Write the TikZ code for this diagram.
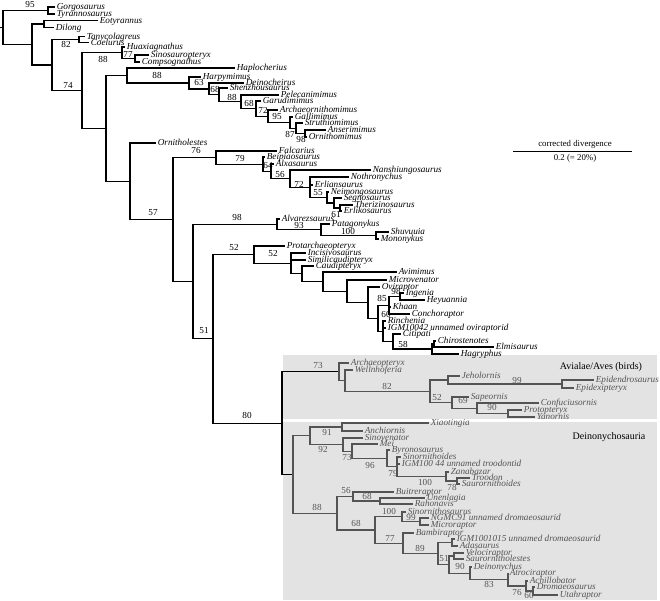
\documentclass[tikz,border=0pt]{standalone}
\usepackage{fontspec}
\setmainfont{Liberation Serif}
\usetikzlibrary{positioning}
\definecolor{panelgray}{gray}{0.89}
\definecolor{paleink}{gray}{0.33}
\tikzset{
  branch/.style={line width=1.15pt,line join=miter},
  palebranch/.style={branch,draw=paleink},
  taxon/.style={anchor=west,inner xsep=1.6pt,inner ysep=0pt,text height=1.5ex,text depth=.2ex,font=\fontsize{9.2}{9.2}\selectfont\itshape},
  paletaxon/.style={taxon,text=paleink},
  support/.style={inner sep=0pt,font=\fontsize{9.2}{9.2}\selectfont},
  palesupport/.style={support,text=paleink},
  cladename/.style={inner sep=0pt,font=\fontsize{10}{10}\selectfont},
  scalelabel/.style={inner sep=0pt,font=\fontsize{8.8}{8.8}\selectfont}
}
\begin{document}
\begin{tikzpicture}[x=1pt,y=-1pt]
\useasboundingbox (0,0) rectangle (660,600);
\fill[panelgray] (283,355) rectangle (657,419);
\fill[panelgray] (283,422) rectangle (657,600);

% internal nodes
\foreach \n/\x/\y in {r/3/27.5, t/48/10.5, n1/32/44.5, n2/44/24, n3/52/65, n4/79/39.5, n5/82/90.5,
  n6/122/52.75, n6b/135/58.5, n7/106/128.4, n8/127/75.5, n9/189/83, n10/209/89, n11/219/94.9,
  n12/241/101.8, n13/256/108.7, n14/268/116.3, n15/290/122.6, n16/296/128.3, n17/305/133.5,
  n18/130/181.3, n20/173/219.6, n21/216/157.6, n22/263/164.2, n23/271/171.3, n24/290/178.6,
  n25/310/187.3, n26/327/197.5, n27/334/203, n28/340/208, n29/193/281.7, n30/277/224.4,
  n31/321/229.8, n32/376/235.5, n33/213/338.9, n34/254/254.7, n35/291/263.4, n36/302/273.8,
  n37/323/281.7, n38/347/291.3, n39/368/302.6, n40/378/318.3, n41/389/305.3, n42/383/331.3,
  n43/400/296.5, ci/393/341.5, cae/432/349, cae1/434/344, pa/282/423.2,
  a1/339/371.8, a2/345/380.7, a3/430/391.3, j/448/380, epi/562/384, s/452/402.6, c/477/408.3, p/508/413.5,
  d0/293/474.5, d1/310/435.8, d91/342/427, d2/343/444.6, d3/352/451.2, d4/387/458.4, d5/397/466.8,
  d6/446/476.5, d7/457/481, e0/337/513.3, e1/353/496.5, e2/380/501, e5/375/530, e3/402/516.8,
  e4/420/521.5, e6/403/543.3, e7/438/553.6, e8/452/542.5, e9/449/564.6, e9a/454/556, e10/470/573.3,
  e11/508/579.5, e12/526/586, e13/533/591}
  \coordinate (\n) at (\x,\y);
\coordinate (stem) at (0,27.5);

% taxa
\foreach \n/\x/\y/\t in {gorgo/55/7/Gorgosaurus, tyran/55/14/Tyrannosaurus, eotyr/98/20.5/Eotyrannus,
  dilong/54/27.5/Dilong, tanyc/85/36.5/Tanycolagreus, coelu/89/42.5/Coelurus, huaxi/125/47/Huaxiagnathus,
  sinos/149/55/Sinosauropteryx, comps/140/62/Compsognathus, haplo/235/68/Haplocherius,
  harpy/201/77/Harpymimus, deinoc/244/83/Deinocheirus, shenz/228/88/Shenzhousaurus,
  pelec/279/95/Pelecanimimus, garud/261/101/Garudimimus, archo/278/110/Archaeornithomimus,
  galli/293/117/Gallimimus, strut/303/123/Struthiomimus, anser/326/130/Anserimimus,
  ornim/307/137/Ornithomimus, ornit/156/143/Ornitholestes, falca/277/151/Falcarius,
  beipi/265/157/Beipiaosaurus, alxas/274/164/Alxasaurus, nansh/371/170/Nanshiungosaurus,
  nothr/349/177/Nothronychus, erlia/313/185/Erliansaurus, neimo/329/192/Neimongosaurus,
  segno/342/198/Segnosaurus, theri/353/205/Therizinosaurus, erlik/342/211/Erlikosaurus,
  alvar/280/219/Alvarezsaurus, patag/330/224/Patagonykus, shuvu/389/232/Shuvuuia,
  monon/379/239/Mononykus, prota/285/246/Protarchaeopteryx, incis/306/253/Incisivosaurus,
  simil/306/260/Similicaudipteryx, caudi/314/266/Caudipteryx, avimi/397/272/Avimimus,
  micro/387/280/Microvenator, ovira/380/287/Oviraptor, ingen/404/293/Ingenia,
  heyua/425/300/Heyuannia, khaan/391/307/Khaan, conch/410/314/Conchoraptor,
  rinch/386/321/Rinchenia, igmovi/386/328/IGM10042 unnamed oviraptorid, citip/401/334/Citipati,
  chiro/436/341/Chirostenotes, elmis/494/347/Elmisaurus, hagry/459/354/Hagryphus}
  \node[taxon] (\n) at (\x,\y) {\t};
\foreach \n/\x/\y/\t in {archa/349/363/Archaeopteryx, welln/353/370/Wellnhoferia, jehol/460/376/Jeholornis,
  epide/594/380/Epidendrosaurus, epidx/574/388/Epidexipteryx, sapeo/469/397/Sapeornis,
  confu/539/403/Confuciusornis, proto/522/410/Protopteryx, yanor/535/417/Yanornis,
  xiaot/429/423/Xiaotingia, anchi/363/431/Anchiornis, sinov/363/438/Sinovenator, mei/378/444/Mei,
  byron/390/450/Byronosaurus, sinor/401/457/Sinornithoides, igmtro/400/464/IGM100 44 unnamed troodontid,
  zanab/449/472/Zanabazar, trood/470/478/Troodon, sauro/460/484/Saurornithoides,
  buitr/394/492/Buitreraptor, unenl/425/498/Unenlagia, rahon/413/504/Rahonavis,
  sinrn/406/512/Sinornithosaurus, ngmc/429/518/NGMC91 unnamed dromaeosaurid,
  micrp/429/525/Microraptor, bambi/414/533/Bambiraptor,
  igmdro/455/539/IGM1001015 unnamed dromaeosaurid, adasa/458/546/Adasaurus,
  veloc/464/553/Velociraptor, saurn/464/559/Saurornitholestes, deiny/472/567/Deinonychus,
  atroc/508/573/Atrociraptor, achil/528/581/Achillobator, droma/535/587/Dromaeosaurus,
  utahr/558/595/Utahraptor}
  \node[paletaxon] (\n) at (\x,\y) {\t};

% branches
\draw[branch] (stem) -- (r);
\foreach \p/\c in {r/t, r/n1, t/gorgo, t/tyran, n1/n2, n1/n3, n2/eotyr, n2/dilong, n3/n4, n3/n5,
  n4/tanyc, n4/coelu, n5/n6, n5/n7, n6/huaxi, n6/n6b, n6b/sinos, n6b/comps, n7/n8, n7/n18,
  n8/haplo, n8/n9, n9/harpy, n9/n10, n10/deinoc, n10/n11, n11/shenz, n11/n12, n12/pelec, n12/n13,
  n13/garud, n13/n14, n14/archo, n14/n15, n15/galli, n15/n16, n16/strut, n16/n17, n17/anser,
  n17/ornim, n18/ornit, n18/n20, n20/n21, n20/n29, n21/falca, n21/n22, n22/beipi, n22/n23,
  n23/alxas, n23/n24, n24/nansh, n24/n25, n25/nothr, n25/erlia, n25/n26, n26/neimo, n26/n27,
  n27/segno, n27/n28, n28/theri, n28/erlik, n29/n30, n29/n33, n30/alvar, n30/n31, n31/patag,
  n31/n32, n32/shuvu, n32/monon, n33/n34, n33/pa, n34/prota, n34/n35, n35/incis, n35/simil,
  n35/n36, n36/caudi, n36/n37, n37/avimi, n37/n38, n38/micro, n38/n39, n39/ovira, n39/n40,
  n40/n41, n40/n42, n41/n43, n41/khaan, n41/conch, n43/ingen, n43/heyua, n42/rinch, n42/igmovi,
  n42/ci, ci/citip, ci/cae, cae/cae1, cae/hagry, cae1/chiro, cae1/elmis, pa/a1, pa/d0}
  \draw[branch] (\p) |- (\c);
\foreach \p/\c in {a1/archa, a1/a2, a2/welln, a2/a3, a3/j, a3/s, j/jehol, j/epi, epi/epide, epi/epidx,
  s/sapeo, s/c, c/confu, c/p, p/proto, p/yanor, d0/d1, d0/e0, d1/d91, d1/d2, d91/xiaot, d91/anchi,
  d2/sinov, d2/d3, d3/mei, d3/d4, d4/byron, d4/d5, d5/sinor, d5/igmtro, d5/d6, d6/zanab, d6/d7,
  d7/trood, d7/sauro, e0/e1, e0/e5, e1/buitr, e1/e2, e2/unenl, e2/rahon, e5/e3, e5/e6, e3/sinrn,
  e3/e4, e4/ngmc, e4/micrp, e6/bambi, e6/e7, e7/e8, e7/e9, e8/igmdro, e8/adasa, e9/e9a, e9/e10,
  e9a/veloc, e9a/saurn, e10/deiny, e10/e11, e11/atroc, e11/e12, e12/achil, e12/e13, e13/droma,
  e13/utahr}
  \draw[palebranch] (\p) |- (\c);

% support values
\foreach \x/\y/\v [count=\i] in {30/4/95, 66/44/82, 68/85/74, 103/59/88, 128/54/77, 157/75/88,
  199/82/63, 215/89/68, 232/97/88, 249/103/68, 263/110/72, 277/116/95, 290/134/87, 301/139/98,
  196/150/76, 153/213/57, 240/158/79, 268/165/64, 280/174/56, 299/184/72, 318/193/55, 336/214/61,
  237/217/98, 299/225/93, 348/231/100, 234/247/52, 273/253/52, 382/298/85, 396/291/98, 386/314/60,
  403/344/58, 204/330/51, 247/415/80}
  \node[support] (bs\i) at (\x,\y) {\v};
\foreach \x/\y/\v [count=\i] in {318/365/73, 387/386/82, 517/380/99, 437/397/52, 463/400/69,
  492/407/90, 327/432/91, 323/449/92, 347/457/73, 370/465/96, 393/473/79, 425/482/100, 452/487/78,
  317/507/88, 346/490/56, 367/496/68, 389/511/100, 411/517/99, 356/523/68, 390/538/77, 420/548/89,
  444/558/51, 460/566/90, 489/584/83, 517/592/76, 529/595.5/60}
  \node[palesupport] (gs\i) at (\x,\y) {\v};

\node[cladename] (aves) at (601,367) {Avialae/Aves (birds)};
\node[cladename] (deinony) at (609,437) {Deinonychosauria};

% scale
\coordinate (barl) at (513,151.5);
\coordinate (barr) at (632,151.5);
\coordinate (barm) at (575,151.5);
\draw[line width=1pt] (barl) -- (barr);
\node[scalelabel,above=2.5pt of barm] (corr) {corrected divergence};
\node[scalelabel,below=2.5pt of barm] (scale) {0.2 (= 20\%)};
\end{tikzpicture}
\end{document}
